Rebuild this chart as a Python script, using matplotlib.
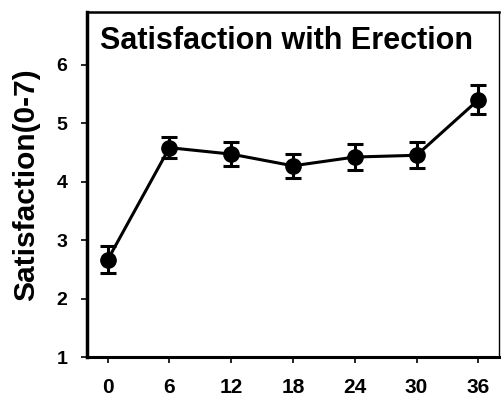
import matplotlib
matplotlib.use("Agg")
import matplotlib.pyplot as plt

months = [0, 6, 12, 18, 24, 30, 36]
satisfaction = [2.66, 4.58, 4.47, 4.27, 4.42, 4.45, 5.40]
sem = [0.23, 0.18, 0.21, 0.21, 0.22, 0.22, 0.25]
yticks = [1, 2, 3, 4, 5, 6]

plt.rcParams['font.family'] = ['Liberation Sans', 'DejaVu Sans']
fig = plt.figure(figsize=(5.01, 4.01), dpi=100)
ax = fig.add_axes([0.1737, 0.1097, 0.8223, 0.8603])
ax.errorbar(months, satisfaction, yerr=sem, color='black', lw=2.2, marker='o',
            ms=11, capsize=6, capthick=2.2, elinewidth=2.2)
ax.set_xlim(-2, 38)
ax.set_ylim(1, 6.9)
ax.set_xticks(months)
ax.set_yticks(yticks)
for lbl in ax.get_xticklabels():
    lbl.set_fontweight('bold')
    lbl.set_fontsize(15)
for lbl in ax.get_yticklabels():
    lbl.set_fontweight('bold')
    lbl.set_fontsize(14)
ax.tick_params(axis='both', direction='out', length=4, width=1.2, colors='black')
ax.tick_params(axis='y', pad=10)
ax.tick_params(axis='x', pad=11)
ax.spines['left'].set_linewidth(2.5)
ax.spines['bottom'].set_linewidth(2.2)
ax.spines['top'].set_linewidth(1.8)
ax.spines['right'].set_linewidth(1.0)
ax.set_ylabel('Satisfaction(0-7)', fontsize=21.5, fontweight='bold', labelpad=12)
ax.text(0.031, 0.96, 'Satisfaction with Erection', transform=ax.transAxes,
        fontsize=22, fontweight='bold', va='top', ha='left')
fig.savefig('out.png', dpi=100)
